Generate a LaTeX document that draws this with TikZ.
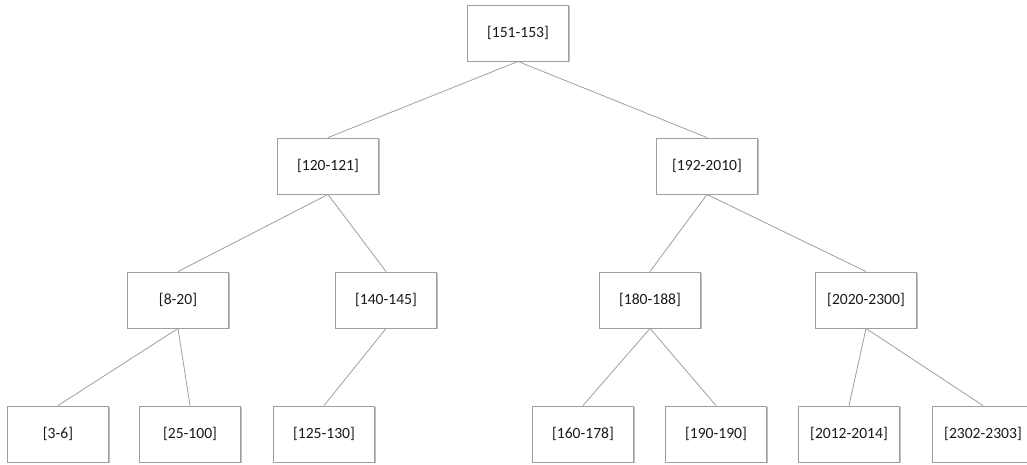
\documentclass[tikz,border=0pt]{standalone}
\usepackage{fontspec}
\setmainfont{Carlito}
\usetikzlibrary{shadows}
\definecolor{boxline}{HTML}{9E9E9E}
\definecolor{edgeline}{HTML}{A0A0A0}
\definecolor{labeltext}{HTML}{1A1A1A}
\tikzset{
  rangebox/.style={draw=boxline, line width=0.9pt, fill=white,
    minimum width=101pt, minimum height=56pt, inner sep=0pt,
    font=\fontsize{15.6}{18}\selectfont, text=labeltext,
    drop shadow={shadow xshift=1.2pt, shadow yshift=-1.2pt, opacity=0.25, fill=black}},
  link/.style={draw=edgeline, line width=0.8pt}
}
\begin{document}
\begin{tikzpicture}[x=1pt, y=-1pt]
\useasboundingbox (0,0) rectangle (1027,464);
\fill[white] (0,0) rectangle (1027,464);
\begin{scope}
\clip (0,0) rectangle (1027,464);
% level 0
\node[rangebox] (r)   at (518,33)  {[151-153]};
% level 1
\node[rangebox] (a)   at (328,166) {[120-121]};
\node[rangebox] (b)   at (707,166) {[192-2010]};
% level 2
\node[rangebox] (aa)  at (178,300) {[8-20]};
\node[rangebox] (ab)  at (386,300) {[140-145]};
\node[rangebox] (ba)  at (650,300) {[180-188]};
\node[rangebox] (bb)  at (866,300) {[2020-2300]};
% level 3
\node[rangebox] (aaa) at (58,434)  {[3-6]};
\node[rangebox] (aab) at (190,434) {[25-100]};
\node[rangebox] (aba) at (324,434) {[125-130]};
\node[rangebox] (baa) at (583,434) {[160-178]};
\node[rangebox] (bab) at (716,434) {[190-190]};
\node[rangebox] (bba) at (849,434) {[2012-2014]};
\node[rangebox] (bbb) at (983,434) {[2302-2303]};
% tree edges
\draw[link] (r.south)  -- (a.north);
\draw[link] (r.south)  -- (b.north);
\draw[link] (a.south)  -- (aa.north);
\draw[link] (a.south)  -- (ab.north);
\draw[link] (b.south)  -- (ba.north);
\draw[link] (b.south)  -- (bb.north);
\draw[link] (aa.south) -- (aaa.north);
\draw[link] (aa.south) -- (aab.north);
\draw[link] (ab.south) -- (aba.north);
\draw[link] (ba.south) -- (baa.north);
\draw[link] (ba.south) -- (bab.north);
\draw[link] (bb.south) -- (bba.north);
\draw[link] (bb.south) -- (bbb.north);
\end{scope}
\end{tikzpicture}
\end{document}
